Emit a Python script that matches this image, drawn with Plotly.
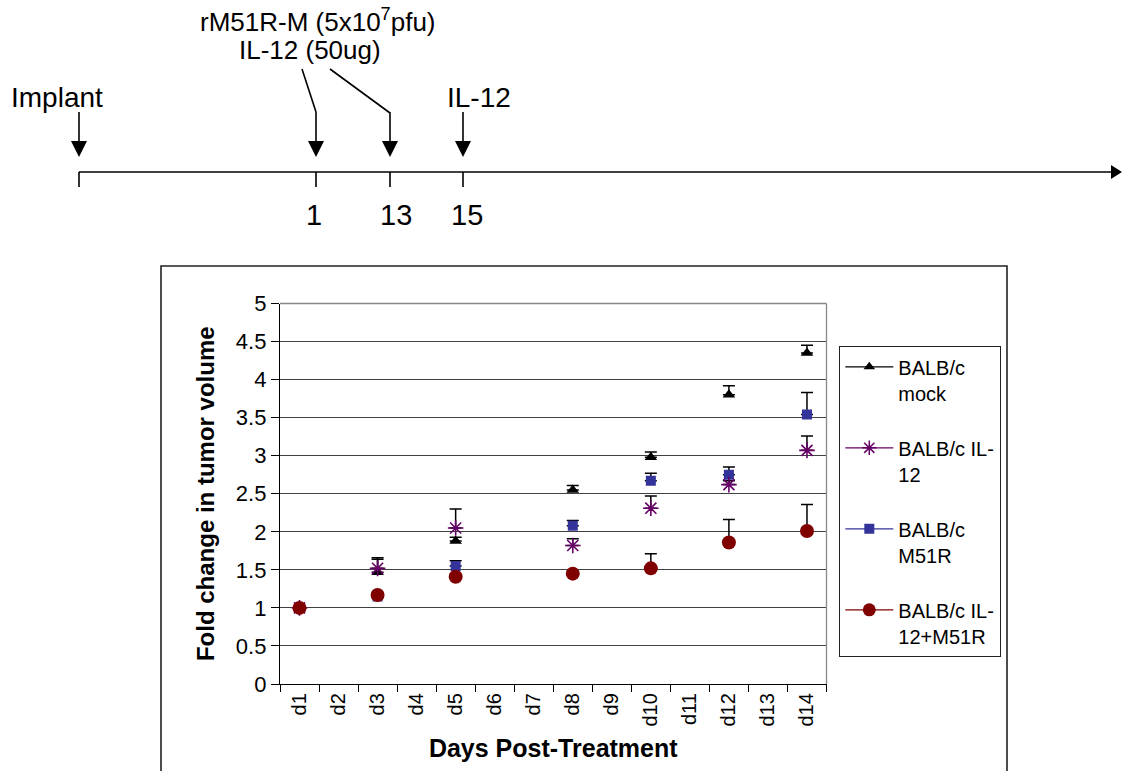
import plotly.graph_objects as go

# ---------------- data ----------------
days = ["d1", "d2", "d3", "d4", "d5", "d6", "d7", "d8", "d9", "d10", "d11", "d12", "d13", "d14"]
measured_days = ["d1", "d3", "d5", "d8", "d10", "d12", "d14"]

mock = [1.00, 1.47, 1.88, 2.55, 2.98, 3.80, 4.35]
mock_err = [0.00, 0.19, 0.05, 0.06, 0.07, 0.12, 0.10]

il12 = [1.00, 1.52, 2.05, 1.82, 2.31, 2.62, 3.07]
il12_err = [0.00, 0.12, 0.25, 0.09, 0.16, 0.05, 0.19]

m51r = [1.00, 1.15, 1.55, 2.08, 2.67, 2.75, 3.54]
m51r_err = [0.00, 0.03, 0.07, 0.07, 0.10, 0.10, 0.29]

combo = [1.00, 1.17, 1.41, 1.45, 1.52, 1.86, 2.01]
combo_err = [0.00, 0.03, 0.03, 0.03, 0.19, 0.30, 0.35]

legend_names = ["BALB/c<br>mock", "BALB/c IL-<br>12", "BALB/c<br>M51R", "BALB/c IL-<br>12+M51R"]

timeline_days = ["1", "13", "15"]

W, H = 1122, 771
FONT = "Liberation Sans, Arial, sans-serif"


def px(x):
    return x / W


def py(y):
    return 1 - y / H


fig = go.Figure()

series = [
    (0, mock, mock_err, "#000000", "triangle-up", 11, 0),
    (2, m51r, m51r_err, "#333399", "square", 10, 0),
    (1, il12, il12_err, "#660066", "asterisk-open", 13, 1.6),
    (3, combo, combo_err, "#800000", "circle", 14, 0),
]

for idx, vals, errs, col, sym, size, lw in series:
    marker = dict(color=col, symbol=sym, size=size)
    if lw:
        marker["line"] = dict(color=col, width=lw)
    else:
        marker["line"] = dict(width=0)
    fig.add_trace(go.Scatter(
        x=measured_days, y=vals, mode="markers",
        marker=marker, showlegend=False, hoverinfo="skip",
        error_y=dict(type="data", array=errs, arrayminus=[0] * len(errs),
                     symmetric=False, color="#000000", thickness=1.5, width=6),
    ))

legend_style = [
    ("#000000", "triangle-up", 10, 0),
    ("#660066", "asterisk-open", 12, 1.5),
    ("#333399", "square", 10, 0),
    ("#800000", "circle", 13, 0),
]
for i, (col, sym, size, lw) in enumerate(legend_style):
    marker = dict(color=col, symbol=sym, size=size)
    marker["line"] = dict(color=col, width=lw)
    fig.add_trace(go.Scatter(
        x=[None], y=[None], mode="lines+markers", name=legend_names[i],
        legendgroup=f"g{i}", line=dict(color=col, width=1.2), marker=marker,
    ))

shapes = []
annotations = []

# ---------------- timeline ----------------
line_col = "#000000"
tl_y = 172
shapes.append(dict(type="line", xref="paper", yref="paper", x0=px(79), x1=px(1112),
                   y0=py(tl_y), y1=py(tl_y), line=dict(color=line_col, width=1.6)))
shapes.append(dict(type="path", xref="paper", yref="paper",
                   path=f"M {px(1111)} {py(165)} L {px(1122)} {py(tl_y)} L {px(1111)} {py(179)} Z",
                   fillcolor=line_col, line=dict(color=line_col, width=0)))
tick_x = [79, 316, 390, 463]
for tx in tick_x:
    shapes.append(dict(type="line", xref="paper", yref="paper", x0=px(tx), x1=px(tx),
                       y0=py(tl_y), y1=py(187), line=dict(color=line_col, width=1.6)))
    shapes.append(dict(type="line", xref="paper", yref="paper", x0=px(tx), x1=px(tx),
                       y0=py(112), y1=py(143), line=dict(color=line_col, width=1.6)))
    shapes.append(dict(type="path", xref="paper", yref="paper",
                       path=f"M {px(tx - 8)} {py(141)} L {px(tx)} {py(157)} L {px(tx + 8)} {py(141)} Z",
                       fillcolor=line_col, line=dict(color=line_col, width=0)))
shapes.append(dict(type="line", xref="paper", yref="paper", x0=px(302), x1=px(316),
                   y0=py(69), y1=py(112), line=dict(color=line_col, width=1.6)))
shapes.append(dict(type="line", xref="paper", yref="paper", x0=px(330), x1=px(390),
                   y0=py(69), y1=py(113), line=dict(color=line_col, width=1.6)))

for lab, lx in zip(timeline_days, [314, 396, 467]):
    annotations.append(dict(text=lab, x=px(lx), y=py(215), xref="paper", yref="paper",
                            showarrow=False, xanchor="center", yanchor="middle",
                            font=dict(family=FONT, size=29, color="#000000")))
annotations.append(dict(text="Implant", x=px(57), y=py(97), xref="paper", yref="paper",
                        showarrow=False, xanchor="center", yanchor="middle",
                        font=dict(family=FONT, size=28, color="#000000")))
annotations.append(dict(text="IL-12", x=px(479), y=py(97), xref="paper", yref="paper",
                        showarrow=False, xanchor="center", yanchor="middle",
                        font=dict(family=FONT, size=28, color="#000000")))
annotations.append(dict(text="rM51R-M (5x10<sup>7</sup>pfu)", x=px(318), y=py(20), xref="paper", yref="paper",
                        showarrow=False, xanchor="center", yanchor="middle",
                        font=dict(family=FONT, size=26, color="#000000")))
annotations.append(dict(text="IL-12 (50ug)", x=px(310), y=py(50), xref="paper", yref="paper",
                        showarrow=False, xanchor="center", yanchor="middle",
                        font=dict(family=FONT, size=26, color="#000000")))

# ---------------- chart frame ----------------
shapes.append(dict(type="rect", xref="paper", yref="paper", x0=px(161), x1=px(1007),
                   y0=py(266), y1=py(800), line=dict(color="#222222", width=1.6),
                   fillcolor="rgba(0,0,0,0)"))
shapes.append(dict(type="line", xref="paper", yref="paper", x0=px(280), x1=px(826.5),
                   y0=py(303.5), y1=py(303.5), line=dict(color="#888888", width=1.3)))
shapes.append(dict(type="line", xref="paper", yref="paper", x0=px(826.5), x1=px(826.5),
                   y0=py(303.5), y1=py(684), line=dict(color="#888888", width=1.3)))

fig.update_layout(
    width=W, height=H,
    margin=dict(l=0, r=0, t=0, b=0),
    paper_bgcolor="white", plot_bgcolor="white",
    font=dict(family=FONT, color="#000000"),
    shapes=shapes, annotations=annotations,
    hovermode=False,
    legend=dict(
        x=px(839), y=py(346), xanchor="left", yanchor="top",
        bordercolor="#222222", borderwidth=1.3, bgcolor="white",
        font=dict(family=FONT, size=20, color="#000000"),
        tracegroupgap=26, traceorder="grouped", valign="top",
        itemsizing="trace", itemwidth=48,
    ),
    xaxis=dict(
        domain=[px(280), px(826.5)],
        type="category", categoryorder="array", categoryarray=days,
        range=[-0.5, 13.5], tickson="boundaries",
        ticks="outside", ticklen=7, tickwidth=1.3, tickcolor="#000000",
        showline=True, linecolor="#000000", linewidth=1.3,
        showgrid=False, zeroline=False,
        tickangle=-90, tickfont=dict(family=FONT, size=20, color="#000000"),
        title=dict(text="<b>Days Post-Treatment</b>", standoff=13,
                   font=dict(family=FONT, size=25, color="#000000")),
        automargin=False, fixedrange=True,
    ),
    yaxis=dict(
        domain=[py(684), py(303.5)],
        range=[0, 5], dtick=0.5, tick0=0,
        ticks="outside", ticklen=8, tickwidth=1.3, tickcolor="#000000",
        showline=True, linecolor="#000000", linewidth=1.3,
        showgrid=True, gridcolor="#404040", gridwidth=1,
        zeroline=False,
        tickfont=dict(family=FONT, size=22, color="#000000"),
        title=dict(text="<b>Fold change in tumor volume</b>", standoff=14,
                   font=dict(family=FONT, size=24, color="#000000")),
        automargin=False, fixedrange=True,
    ),
)

fig.write_html("out.html", config={"displayModeBar": False},
               post_script="document.body.style.margin='0px';document.body.style.overflow='hidden';")
